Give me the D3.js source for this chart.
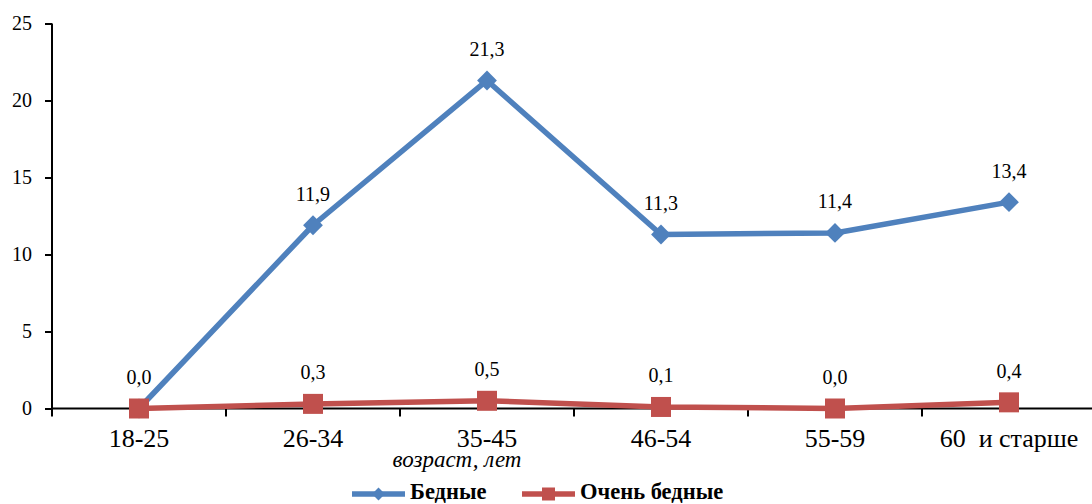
<!DOCTYPE html>
<html>
<head>
<meta charset="utf-8">
<script src="https://cdn.jsdelivr.net/npm/d3@7"></script>
<style>
  body { margin: 0; background: #fff; }
</style>
</head>
<body>
<div id="chart"></div>
<script>
// data
const categories = ["18-25", "26-34", "35-45", "46-54", "55-59", "60  и старше"];
const poor = [0.0, 11.9, 21.3, 11.3, 11.4, 13.4];
const veryPoor = [0.0, 0.3, 0.5, 0.1, 0.0, 0.4];
const yTicks = [0, 5, 10, 15, 20, 25];

const w = 1092, h = 504;
const plotLeft = 52, plotRight = 1096, plotTop = 23.5, plotBottom = 408.5;
const serif = "'Liberation Serif', 'Times New Roman', 'DejaVu Serif', serif";

const svg = d3.select("#chart").append("svg")
  .attr("width", w)
  .attr("height", h)
  .attr("font-family", serif);

const x = d3.scaleBand().domain(categories).range([plotLeft, plotRight]);
const y = d3.scaleLinear().domain([0, 25]).range([plotBottom, plotTop]);
const cx = d => x(d) + x.bandwidth() / 2;
const fmt = v => v.toFixed(1).replace(".", ",");

// y axis
const yAxis = svg.append("g")
  .attr("transform", "translate(" + plotLeft + ",0)")
  .call(d3.axisLeft(y).tickValues(yTicks).tickSize(7).tickPadding(13).tickFormat(d3.format("d")));
yAxis.attr("font-family", serif).attr("font-size", 20);
yAxis.select(".domain").remove();
yAxis.selectAll("line").attr("stroke", "#000").attr("stroke-width", 2);
yAxis.selectAll("text").attr("fill", "#000");
svg.append("line")
  .attr("x1", plotLeft).attr("x2", plotLeft)
  .attr("y1", plotTop).attr("y2", plotBottom + 8)
  .attr("stroke", "#000").attr("stroke-width", 2);

// x axis
svg.append("line")
  .attr("x1", plotLeft).attr("x2", w)
  .attr("y1", plotBottom).attr("y2", plotBottom)
  .attr("stroke", "#000").attr("stroke-width", 2);
svg.selectAll(".xtick")
  .data(categories.slice(1))
  .enter().append("line")
  .attr("x1", d => x(d)).attr("x2", d => x(d))
  .attr("y1", plotBottom).attr("y2", plotBottom + 8)
  .attr("stroke", "#000").attr("stroke-width", 2);
svg.selectAll(".xlabel")
  .data(categories)
  .enter().append("text")
  .attr("x", cx)
  .attr("y", 447)
  .attr("text-anchor", "middle")
  .attr("font-size", 26)
  .style("white-space", "pre")
  .text(d => d);

svg.append("text")
  .attr("x", 457).attr("y", 467)
  .attr("text-anchor", "middle")
  .attr("font-size", 23)
  .attr("font-style", "italic")
  .text("возраст, лет");

const series = [
  { name: "Бедные", values: poor, color: "#4F81BD", marker: "diamond" },
  { name: "Очень бедные", values: veryPoor, color: "#C0504D", marker: "square" }
];

const line = d3.line().x(d => cx(d.cat)).y(d => y(d.v));

function marker(g, type, color, k) {
  if (type === "diamond") {
    const a = 7 * k;
    g.append("rect")
      .attr("x", -a).attr("y", -a).attr("width", 2 * a).attr("height", 2 * a)
      .attr("transform", "rotate(45)")
      .attr("fill", color);
  } else {
    const a = 10 * k;
    g.append("rect")
      .attr("x", -a).attr("y", -a).attr("width", 2 * a).attr("height", 2 * a)
      .attr("fill", color);
  }
}

const labelled = new Set();
series.forEach(s => {
  const pts = categories.map((c, i) => ({ cat: c, v: s.values[i] }));
  svg.append("path")
    .datum(pts)
    .attr("d", line)
    .attr("fill", "none")
    .attr("stroke", s.color)
    .attr("stroke-width", 5.5)
    .attr("stroke-linejoin", "round");
  pts.forEach(p => {
    const g = svg.append("g").attr("transform", "translate(" + cx(p.cat) + "," + y(p.v) + ")");
    marker(g, s.marker, s.color, 1);
  });
  // labels that coincide exactly with one already drawn are printed once
  const fresh = pts.filter(p => {
    const key = p.cat + "|" + fmt(p.v);
    if (labelled.has(key)) return false;
    labelled.add(key);
    return true;
  });
  svg.selectAll(null)
    .data(fresh)
    .enter().append("text")
    .attr("x", d => cx(d.cat))
    .attr("y", d => y(d.v) - 24.5)
    .attr("text-anchor", "middle")
    .attr("font-size", 20)
    .text(d => fmt(d.v));
});

// legend
const legend = [
  { x1: 352, x2: 405, tx: 410, s: series[0] },
  { x1: 522, x2: 575, tx: 580, s: series[1] }
];
legend.forEach(l => {
  const ly = 494;
  svg.append("line")
    .attr("x1", l.x1).attr("x2", l.x2)
    .attr("y1", ly).attr("y2", ly)
    .attr("stroke", l.s.color).attr("stroke-width", 5.5);
  const g = svg.append("g").attr("transform", "translate(" + ((l.x1 + l.x2) / 2) + "," + ly + ")");
  marker(g, l.s.marker, l.s.color, 0.65);
  svg.append("text")
    .attr("x", l.tx).attr("y", 499)
    .attr("font-size", 22.5)
    .attr("font-weight", "bold")
    .text(l.s.name);
});
</script>
</body>
</html>
